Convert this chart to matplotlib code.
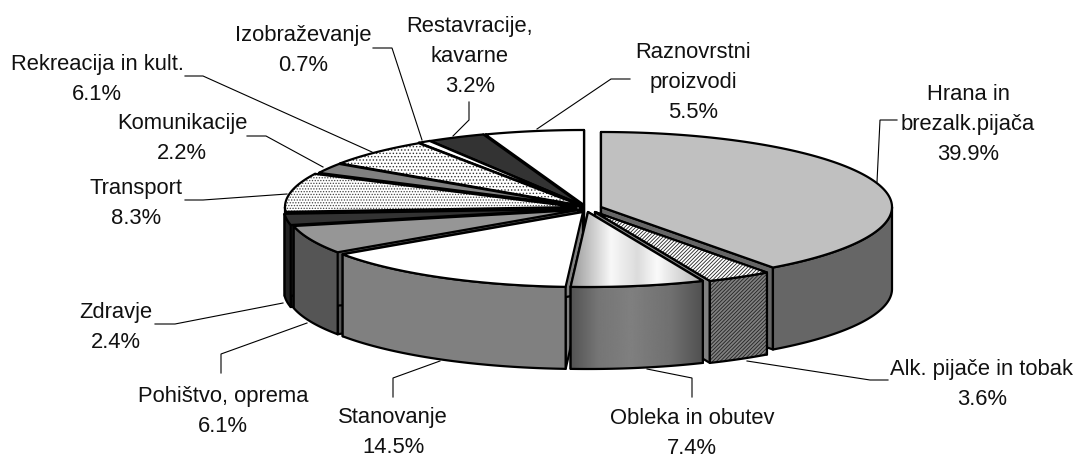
import numpy as np
import matplotlib
matplotlib.use("Agg")
import matplotlib.pyplot as plt
from matplotlib.patches import Polygon

# ---- data
categories = ["Hrana in\nbrezalk.pijača", "Alk. pijače in tobak", "Obleka in obutev", "Stanovanje",
              "Pohištvo, oprema", "Zdravje", "Transport", "Komunikacije",
              "Rekreacija in kult.", "Izobraževanje", "Restavracije,\nkavarne", "Raznovrstni\nproizvodi"]
values = [39.9, 3.6, 7.4, 14.5, 6.1, 2.4, 8.3, 2.2, 6.1, 0.7, 3.2, 5.5]

# ---- styles / layout (one entry per slice)
centers = [(601, 207), (595, 212), (588, 212), (583, 212), (578, 210), (575, 209),
           (576, 207), (580, 206), (581, 205.5), (581, 205), (582, 205), (584, 205)]
top_colors = ["#c0c0c0", "#ffffff", "grad", "#ffffff", "#969696", "#333333",
              "#ffffff", "#808080", "#ffffff", "#ffffff", "#333333", "#ffffff"]
side_colors = ["#666666", "#808080", "grad", "#808080", "#555555", "#222222",
               "#333333", "#555555", "#555555", "#555555", "#222222", "#555555"]
top_hatch = [None, "/////////", None, None, None, None, "......", None, ".....", None, None, None]
hatch_cols = ["k", "#222222", "k", "k", "k", "k", "#444444", "k", "#333333", "k", "k", "k"]
label_pos = [(968, 92), (982, 367), (692, 416), (393, 415), (223, 394), (116, 310),
             (136, 186), (182, 121), (97, 62), (303, 33), (470, 24), (693, 50)]
leaders = [[(877, 182), (880, 120), (897, 120)],
           [(747, 361), (870, 380), (888, 380)],
           [(647, 369), (692, 378), (692, 397)],
           [(440, 361), (393, 378), (393, 397)],
           [(307, 323), (221, 354), (221, 373)],
           [(283, 303), (175, 324), (155, 324)],
           [(287, 194), (203, 200), (185, 200)],
           [(323, 167), (266, 136), (247, 136)],
           [(372, 152), (203, 76), (185, 76)],
           [(422, 140), (392, 48), (373, 48)],
           [(453, 136), (469, 120), (469, 102)],
           [(537, 129), (611, 79), (630, 79)]]
RX, RY, DEPTH = 291, 75, 82
LW = 1.6
top_grad_x = [0.0, 0.3, 0.5, 0.65, 1.0]
top_grad_v = [0.60, 0.97, 0.86, 0.98, 0.70]
side_grad_x = [0.0, 0.2, 0.45, 0.75, 1.0]
side_grad_v = [0.33, 0.46, 0.50, 0.44, 0.31]

plt.rcParams["font.family"] = ["Liberation Sans", "DejaVu Sans"]
plt.rcParams["hatch.linewidth"] = 0.6
fig = plt.figure(figsize=(10.73, 4.57), dpi=100, facecolor="white")
ax = fig.add_axes([0, 0, 1, 1])

total = sum(values)
edges = np.concatenate([[0], np.cumsum(values)]) / total * 360
z = [10]


def nextz():
    z[0] += 1
    return z[0]


def arc(c, a, b, dy=0.0):
    t = np.radians(np.linspace(a, b, max(int(abs(b - a) * 2), 2)))
    return np.column_stack([c[0] + RX * np.sin(t), c[1] - RY * np.cos(t) + dy])


def draw_poly(pts, color, hatch=None, hcol="k"):
    zz = nextz()
    ax.add_patch(Polygon(pts, closed=True, facecolor=color, edgecolor=hcol, hatch=hatch, lw=0, zorder=zz))
    ax.add_patch(Polygon(pts, closed=True, fill=False, edgecolor="k", lw=LW, joinstyle="round", zorder=nextz()))


def draw_grad(pts, gx, gv):
    xs = pts[:, 0]
    x0, x1 = xs.min(), xs.max()
    g = np.interp(np.linspace(0, 1, 200), gx, gv)[None, :]
    zz = nextz()
    im = ax.imshow(g, cmap="gray", vmin=0, vmax=1, aspect="auto",
                   extent=(x0, x1, pts[:, 1].max(), pts[:, 1].min()), zorder=zz)
    clip = Polygon(pts, closed=True, transform=ax.transData, facecolor="none", edgecolor="none")
    ax.add_patch(clip)
    im.set_clip_path(clip)
    ax.add_patch(Polygon(pts, closed=True, fill=False, edgecolor="k", lw=LW, joinstyle="round", zorder=nextz()))


mids = (edges[:-1] + edges[1:]) / 2
order = np.argsort(-np.cos(np.radians(mids)))
for i in order:
    a, b, c = edges[i], edges[i + 1], centers[i]
    side = side_colors[i]
    wall = "#808080" if side == "grad" else side
    # radial walls
    for ang in (a, b):
        outer = arc(c, ang, ang)[0]
        pts = np.array([c, outer, outer + [0, DEPTH], (c[0], c[1] + DEPTH)])
        draw_poly(pts, wall)
    # outer wall: the front half of the rim only
    lo, hi = max(a, 90), min(b, 270)
    if hi > lo:
        up = arc(c, lo, hi)
        pts = np.vstack([up, up[::-1] + [0, DEPTH]])
        if side == "grad":
            draw_grad(pts, side_grad_x, side_grad_v)
        elif top_hatch[i] is not None:
            draw_poly(pts, side, hatch=top_hatch[i], hcol="#222222")
        else:
            draw_poly(pts, side)
    # top face
    pts = np.vstack([[c], arc(c, a, b)])
    if top_colors[i] == "grad":
        draw_grad(pts, top_grad_x, top_grad_v)
    else:
        draw_poly(pts, top_colors[i], hatch=top_hatch[i], hcol=hatch_cols[i])

# labels and leader lines
for name, val, pos, lead in zip(categories, values, label_pos, leaders):
    lines = name.split("\n") + [f"{val:.1f}%"]
    for k, line in enumerate(lines):
        ax.text(pos[0], pos[1] + 8 + 30 * k, line, ha="center", va="baseline",
                fontsize=15.8, color="#111111", zorder=200)
    xy = np.array(lead)
    ax.plot(xy[:, 0], xy[:, 1], color="k", lw=0.8, zorder=5, solid_joinstyle="miter")

ax.set_xlim(0, 1073)
ax.set_ylim(457, 0)
ax.axis("off")
fig.savefig("out.png", dpi=100, facecolor="white")
